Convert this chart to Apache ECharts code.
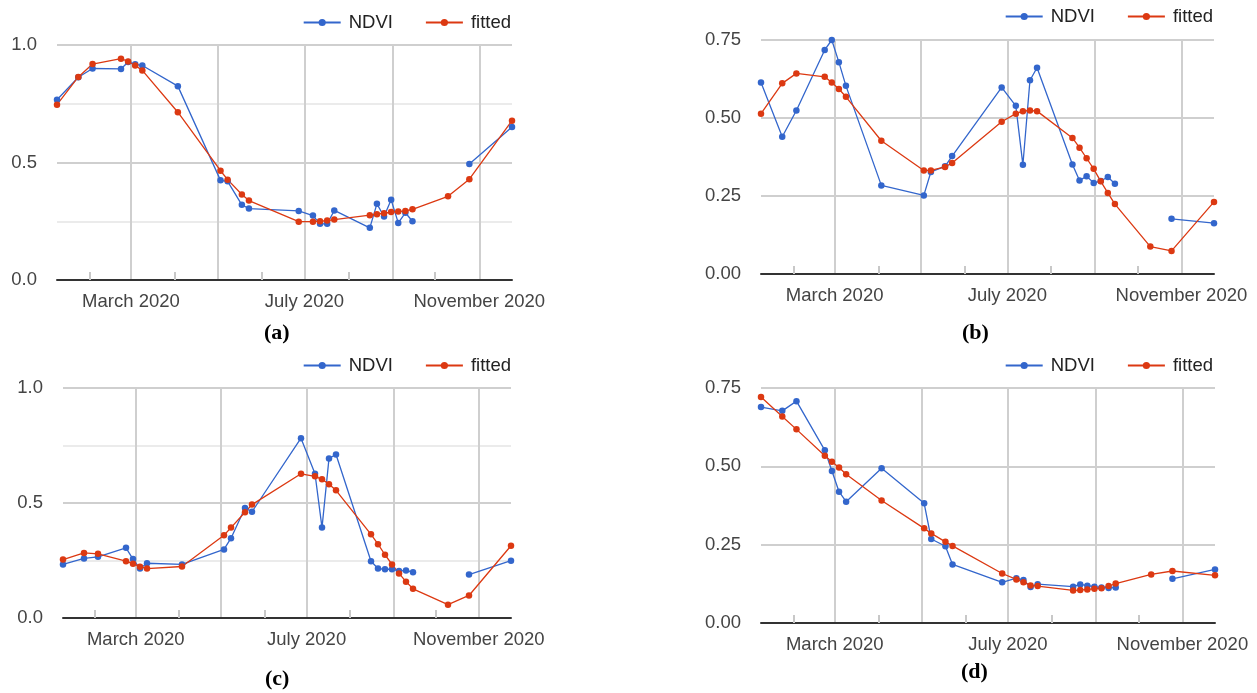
<!DOCTYPE html>
<html>
<head>
<meta charset="utf-8">
<script src="https://cdn.jsdelivr.net/npm/echarts@6/dist/echarts.min.js"></script>
<style>
html,body{margin:0;padding:0;background:#fff;}
#chart{width:1257px;height:693px;}
</style>
</head>
<body>
<div id="chart"></div>
<script>
// ---- data ----
const dates = ['2020-01-09','2020-01-24','2020-02-03','2020-02-23','2020-02-28','2020-03-04','2020-03-09','2020-04-03','2020-05-03','2020-05-08','2020-05-18','2020-05-23','2020-06-27','2020-07-07','2020-07-12','2020-07-17','2020-07-22','2020-08-16','2020-08-21','2020-08-26','2020-08-31','2020-09-05','2020-09-10','2020-09-15','2020-10-10','2020-10-25','2020-11-24'];

const ndviA = [0.767,0.863,0.900,0.898,0.928,0.918,0.913,0.825,0.424,0.420,0.320,0.304,0.294,0.274,0.239,0.239,0.296,0.222,0.324,0.270,0.341,0.243,0.286,0.250,null,0.494,0.651];
const fitA  = [0.746,0.864,0.919,0.942,0.930,0.913,0.892,0.714,0.465,0.427,0.364,0.338,0.248,0.248,0.250,0.253,0.257,0.276,0.280,0.284,0.289,0.291,0.294,0.301,0.356,0.429,0.678];

const ndviB = [0.614,0.440,0.524,0.718,0.750,0.679,0.603,0.284,0.252,0.327,0.345,0.378,0.598,0.539,0.350,0.621,0.661,0.351,0.300,0.313,0.292,0.298,0.311,0.289,null,0.177,0.163];
const fitB  = [0.514,0.611,0.643,0.632,0.614,0.593,0.568,0.427,0.332,0.332,0.343,0.356,0.488,0.514,0.522,0.524,0.522,0.436,0.405,0.371,0.337,0.297,0.260,0.224,0.088,0.074,0.231];

const ndviC = [0.233,0.259,0.266,0.305,0.256,0.215,0.238,0.233,0.298,0.347,0.478,0.462,0.782,0.627,0.393,0.694,0.711,0.247,0.215,0.212,0.212,0.204,0.207,0.199,null,0.189,0.249];
const fitC  = [0.254,0.283,0.279,0.247,0.236,0.223,0.215,0.224,0.360,0.393,0.460,0.493,0.627,0.616,0.603,0.582,0.555,0.364,0.321,0.275,0.233,0.194,0.158,0.127,0.058,0.098,0.314];

const ndviD = [0.689,0.677,0.708,0.551,0.485,0.419,0.387,0.494,0.382,0.268,0.245,0.187,0.130,0.143,0.137,0.115,0.124,0.116,0.123,0.119,0.116,0.113,0.112,0.113,null,0.141,0.171];
const fitD  = [0.721,0.659,0.618,0.534,0.515,0.496,0.475,0.391,0.302,0.286,0.259,0.246,0.158,0.139,0.130,0.120,0.118,0.104,0.105,0.107,0.109,0.111,0.118,0.126,0.155,0.166,0.152];

const axisStart = '2020-01-09';
const axisEnd = '2020-11-24';
const gridTickDates = ['2020-03-01','2020-05-01','2020-07-01','2020-09-01','2020-11-01'];
const labelTickDates = ['2020-03-01','2020-07-01','2020-11-01'];
const minorTickDates = ['2020-02-01','2020-04-01','2020-06-01','2020-08-01','2020-10-01'];
const monthNames = ['January','February','March','April','May','June','July','August','September','October','November','December'];
const seriesNames = ['NDVI','fitted'];
const captions = ['a','b','c','d'];

// ---- helpers ----
function ts(s){ const p = s.split('-').map(Number); return Date.UTC(p[0], p[1]-1, p[2]); }
const BLUE = '#3366cc', RED = '#dc3912';
const FONT = 'Liberation Sans, Arial, sans-serif';

const panels = [
  {ndvi: ndviA, fit: fitA, max: 1, interval: 0.5, dec: 1, minor: true,
   grid: {left: 57, right: 745, top: 45, bottom: 413}, legend: {right: 746, top: 13}, cap: {left: 264, top: 322}},
  {ndvi: ndviB, fit: fitB, max: 0.75, interval: 0.25, dec: 2, minor: false,
   grid: {left: 761, right: 43, top: 40, bottom: 419}, legend: {right: 44, top: 7}, cap: {left: 962, top: 322}},
  {ndvi: ndviC, fit: fitC, max: 1, interval: 0.5, dec: 1, minor: true,
   grid: {left: 63, right: 746, top: 388, bottom: 75}, legend: {right: 746, top: 356}, cap: {left: 265, top: 668}},
  {ndvi: ndviD, fit: fitD, max: 0.75, interval: 0.25, dec: 2, minor: false,
   grid: {left: 761, right: 42, top: 388, bottom: 70}, legend: {right: 44, top: 356}, cap: {left: 961, top: 661}}
];

const option = {
  animation: false,
  backgroundColor: '#fff',
  grid: [], xAxis: [], yAxis: [], series: [], legend: [], title: []
};

panels.forEach((p, i) => {
  option.grid.push(Object.assign({containLabel: false, outerBoundsMode: 'none'}, p.grid));
  option.xAxis.push({
    type: 'value', gridIndex: i, min: ts(axisStart), max: ts(axisEnd), position: 'bottom',
    axisLine: {show: true, onZero: false, lineStyle: {color: '#333', width: 2}},
    axisTick: {show: false, customValues: gridTickDates.map(ts)},
    axisLabel: {
      customValues: labelTickDates.map(ts), margin: 12,
      color: '#444', fontSize: 18.5, fontFamily: FONT,
      formatter: v => { const d = new Date(v); return monthNames[d.getUTCMonth()] + ' ' + d.getUTCFullYear(); }
    },
    splitLine: {show: true, lineStyle: {color: '#cfcfcf', width: 2}}
  });
  option.yAxis.push({
    type: 'value', gridIndex: i, min: 0, max: p.max, interval: p.interval,
    axisLine: {show: false}, axisTick: {show: false},
    axisLabel: {color: '#444', fontSize: 18.5, fontFamily: FONT, margin: 20,
      formatter: v => v.toFixed(p.dec)},
    splitLine: {show: true, lineStyle: {color: '#cfcfcf', width: 2}},
    minorTick: {show: false, splitNumber: 2},
    minorSplitLine: {show: p.minor, lineStyle: {color: '#ebebeb', width: 2}}
  });
  const data1 = dates.map((d, k) => [ts(d), p.ndvi[k]]);
  const data2 = dates.map((d, k) => [ts(d), p.fit[k]]);
  [[seriesNames[0], data1, BLUE], [seriesNames[1], data2, RED]].forEach(([name, data, color]) => {
    option.series.push({
      name, type: 'line', xAxisIndex: i, yAxisIndex: i, data,
      symbol: 'circle', symbolSize: 6.5, showSymbol: true, showAllSymbol: true,
      connectNulls: false,
      lineStyle: {color, width: 1.3},
      itemStyle: {color, borderWidth: 0},
      emphasis: {disabled: true}
    });
  });
  option.legend.push({
    data: seriesNames, right: p.legend.right, top: p.legend.top, padding: 0,
    itemWidth: 37, itemHeight: 9, itemGap: 32, selectedMode: false,
    textStyle: {fontSize: 18.5, color: '#222', fontFamily: FONT, padding: [0, 0, 0, 3]}
  });
  option.title.push({
    text: '{p|(}{b|' + captions[i] + '}{p|)}', left: p.cap.left, top: p.cap.top, padding: 0,
    textStyle: {rich: {
      p: {fontFamily: 'Liberation Serif', fontSize: 22, color: '#000'},
      b: {fontFamily: 'Liberation Serif', fontSize: 22, fontWeight: 'bold', color: '#000'}
    }}
  });
});

// minor month ticks (second x axis per grid)
panels.forEach((p, i) => {
  option.xAxis.push({
    type: 'value', gridIndex: i, min: ts(axisStart), max: ts(axisEnd), position: 'bottom',
    axisLine: {show: false},
    axisTick: {show: true, inside: true, length: 8, customValues: minorTickDates.map(ts),
      lineStyle: {color: '#c8c8c8', width: 2}},
    axisLabel: {show: false},
    splitLine: {show: false}
  });
});

const chart = echarts.init(document.getElementById('chart'), null, {renderer: 'canvas'});
chart.setOption(option);
</script>
</body>
</html>
